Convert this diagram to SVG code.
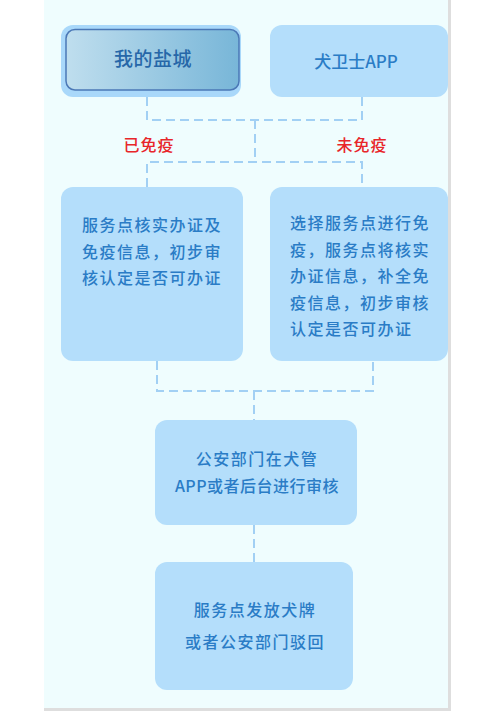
<svg xmlns="http://www.w3.org/2000/svg" width="483" height="712" viewBox="0 0 483 712">
<defs>
<linearGradient id="g1" x1="0" y1="0" x2="1" y2="0">
<stop offset="0" stop-color="#bfdeee"/>
<stop offset="1" stop-color="#78b6d8"/>
</linearGradient>
<style>
.box{fill:#b4defb;}
.t{font-family:"Noto Sans CJK SC","Noto Sans",sans-serif;font-size:16px;font-weight:500;fill:#2a7cc6;letter-spacing:1.5px;}
.tc{text-anchor:middle;}
.lbl{font-family:"Noto Sans CJK SC","Noto Sans",sans-serif;font-size:16px;font-weight:500;fill:#e8262a;text-anchor:middle;letter-spacing:1px;}
.c{fill:none;stroke:#a2d0f4;stroke-width:2;stroke-dasharray:9 5;}
</style>
</defs>
<rect x="0" y="0" width="483" height="712" fill="#ffffff"/>
<rect x="44" y="0" width="407" height="711" fill="#dedede"/>
<rect x="44" y="0" width="404" height="708" fill="#effdfe"/>

<g id="connectors">
<path class="c" d="M147 97 V120 H362 V97"/>
<path class="c" d="M255 120 V162"/>
<path class="c" d="M147 187 V162 H362 V187"/>
<path class="c" d="M157 361 V391 H373 V361"/>
<path class="c" d="M254 391 V420"/>
<path class="c" d="M254 525 V562"/>
</g>

<g id="lbl-yes"><text class="lbl" x="149" y="151">已免疫</text></g>
<g id="lbl-no"><text class="lbl" x="362" y="151">未免疫</text></g>

<g id="node-yancheng">
<rect x="61" y="25" width="180" height="72" rx="12" fill="#a9d8fa"/>
<rect x="66" y="29.5" width="173" height="60.5" rx="9" fill="url(#g1)" stroke="#4b78b6" stroke-width="1.5"/>
<text class="t tc" x="153" y="66" style="font-size:19px;fill:#2667a8;letter-spacing:0.5px">我的盐城</text>
</g>

<g id="node-app">
<rect class="box" x="270" y="25" width="178" height="72" rx="12"/>
<text class="t tc" x="356" y="68" style="font-size:17px;letter-spacing:0px">犬卫士APP</text>
</g>

<g id="node-left">
<rect class="box" x="61" y="187" width="182" height="174" rx="12"/>
<text class="t" x="82" y="231">服务点核实办证及</text>
<text class="t" x="82" y="258">免疫信息，初步审</text>
<text class="t" x="82" y="284">核认定是否可办证</text>
</g>

<g id="node-right">
<rect class="box" x="270" y="187" width="178" height="174" rx="12"/>
<text class="t" x="290" y="229">选择服务点进行免</text>
<text class="t" x="290" y="256">疫，服务点将核实</text>
<text class="t" x="290" y="282">办证信息，补全免</text>
<text class="t" x="290" y="309">疫信息，初步审核</text>
<text class="t" x="290" y="335">认定是否可办证</text>
</g>

<g id="node-police">
<rect class="box" x="155" y="420" width="202" height="105" rx="12"/>
<text class="t tc" x="257" y="465">公安部门在犬管</text>
<text class="t tc" x="257" y="492" style="letter-spacing:0.5px">APP或者后台进行审核</text>
</g>

<g id="node-result">
<rect class="box" x="155" y="562" width="198" height="128" rx="12"/>
<text class="t tc" x="255" y="616">服务点发放犬牌</text>
<text class="t tc" x="255" y="648">或者公安部门驳回</text>
</g>
</svg>
